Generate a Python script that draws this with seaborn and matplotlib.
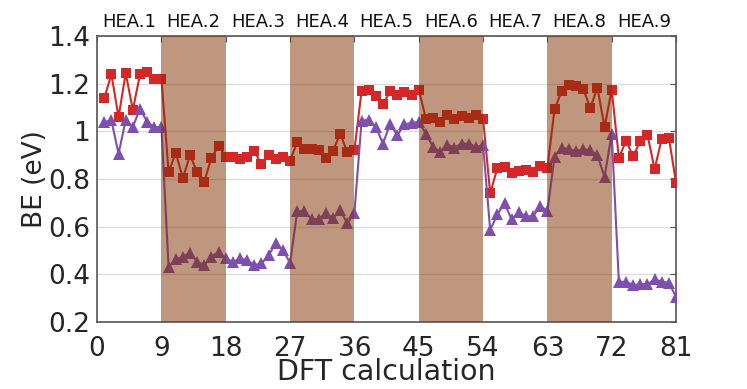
import numpy as np
import pandas as pd
import seaborn as sns
import matplotlib.pyplot as plt

# BE values, one per DFT calculation (1..81)
be_red = [1.14, 1.24, 1.06, 1.245, 1.09, 1.24, 1.25, 1.22, 1.22,
          0.83, 0.91, 0.805, 0.90, 0.83, 0.79, 0.89, 0.94, 0.893,
          0.893, 0.886, 0.893, 0.918, 0.862, 0.903, 0.886, 0.893, 0.878,
          0.956, 0.928, 0.928, 0.924, 0.889, 0.918, 0.991, 0.914, 0.921,
          1.17, 1.173, 1.148, 1.114, 1.17, 1.152, 1.166, 1.152, 1.176,
          1.054, 1.058, 1.04, 1.068, 1.054, 1.064, 1.058, 1.068, 1.054,
          0.74, 0.847, 0.851, 0.826, 0.834, 0.84, 0.83, 0.854, 0.847,
          1.093, 1.17, 1.197, 1.19, 1.18, 1.099, 1.184, 1.019, 1.176,
          0.889, 0.96, 0.896, 0.96, 0.987, 0.842, 0.97, 0.974, 0.784]
be_purple = [1.04, 1.047, 0.907, 1.047, 1.019, 1.096, 1.04, 1.019, 1.017,
             0.432, 0.463, 0.474, 0.491, 0.453, 0.439, 0.474, 0.495, 0.467,
             0.453, 0.467, 0.46, 0.439, 0.446, 0.481, 0.53, 0.502, 0.448,
             0.665, 0.665, 0.632, 0.632, 0.658, 0.635, 0.67, 0.614, 0.658,
             1.044, 1.05, 1.019, 0.949, 1.033, 0.984, 1.03, 1.036, 1.04,
             0.991, 0.935, 0.914, 0.945, 0.932, 0.949, 0.949, 0.935, 0.942,
             0.586, 0.652, 0.698, 0.631, 0.662, 0.644, 0.644, 0.688, 0.667,
             0.893, 0.932, 0.925, 0.917, 0.925, 0.921, 0.9, 0.809, 0.991,
             0.369, 0.369, 0.355, 0.359, 0.359, 0.379, 0.369, 0.365, 0.306]
hea_labels = ["HEA.%d" % i for i in range(1, 10)]
shaded = [(9, 18), (27, 36), (45, 54), (63, 72)]

calc = np.arange(1, len(be_red) + 1)
df = pd.DataFrame({"calc": calc, "red": be_red, "purple": be_purple})

sns.set_style("white")
plt.rcParams["font.family"] = ["DejaVu Sans"]

fig = plt.figure(figsize=(7.47, 3.89), dpi=100)
ax = fig.add_axes([0.130, 0.172, 0.775, 0.735])

sns.lineplot(data=df, x="calc", y="red", ax=ax, color="#d62728", marker="s",
             markersize=6.5, markeredgewidth=0, linewidth=1.5, zorder=3)
sns.lineplot(data=df, x="calc", y="purple", ax=ax, color="#7e4fae", marker="^",
             markersize=8.5, markeredgewidth=0, linewidth=1.5, zorder=3)

# brown bands drawn over the lines, like the original
for a, b in shaded:
    ax.axvspan(a, b, color=(0.5, 0.19, 0.0), alpha=0.5, lw=0, zorder=4)

for i, lab in enumerate(hea_labels):
    ax.text(9 * i + 4.5, 1.438, lab, ha="center", va="baseline", fontsize=13,
            color="#111111")

ax.set_xlim(0, 81)
ax.set_ylim(0.2, 1.4)
ax.set_xticks(range(0, 82, 9))
ax.set_yticks([0.2, 0.4, 0.6, 0.8, 1.0, 1.2, 1.4])
ax.set_yticklabels(["0.2", "0.4", "0.6", "0.8", "1", "1.2", "1.4"])
ax.yaxis.grid(True, color="#dddddd", linewidth=1, zorder=0)
ax.set_axisbelow(True)
ax.tick_params(direction="in", length=4, width=0.8, colors="#555555",
               labelcolor="#262626", labelsize=19, top=True, right=True)
ax.tick_params(axis="x", pad=10)
ax.tick_params(axis="y", pad=5)
for s in ax.spines.values():
    s.set_color("#555555")
    s.set_linewidth(1.2)

ax.set_xlabel("DFT calculation", fontsize=20.5, color="#262626", labelpad=-3)
ax.set_ylabel("BE (eV)", fontsize=19, color="#262626", labelpad=0)

fig.savefig("out.png", dpi=100)
